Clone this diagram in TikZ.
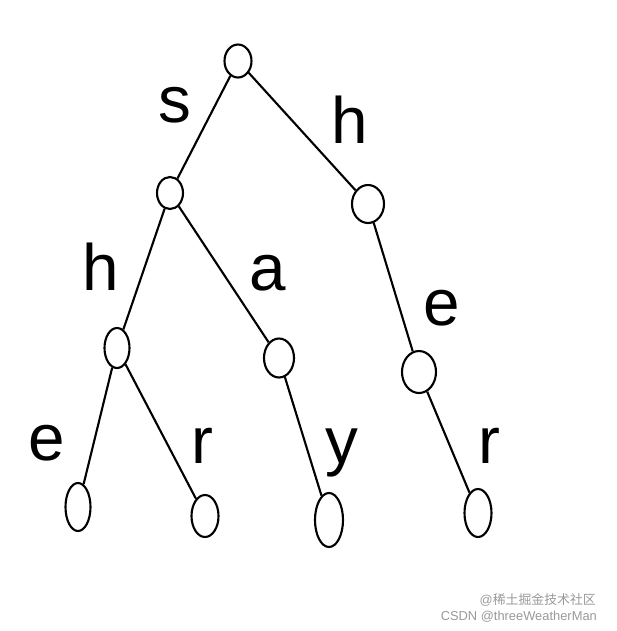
\documentclass[tikz,border=0pt]{standalone}
\usepackage{fontspec}
\setmainfont{Liberation Sans}
\newfontfamily\cjk{Noto Sans CJK SC}
\usetikzlibrary{shapes.geometric}

\begin{document}
\begin{tikzpicture}[x=0.03cm,y=-0.03cm]
	\tikzset{knot/.style 2 args={draw, ellipse, line width=1.8pt, inner sep=0pt,
			minimum width=#1*0.03cm, minimum height=#2*0.03cm},
		letter/.style={anchor=base, font=\fontsize{56}{60}\selectfont},
		mark text/.style={anchor=base east, text=black!40, font=\fontsize{11}{12}\selectfont}}
	\useasboundingbox (0,0) rectangle (617,631);
	% trie nodes
	\node[knot={27}{33}] (root) at (238,61) {};
	\node[knot={26}{32}] (s) at (170,193) {};
	\node[knot={32}{38}] (h) at (368,204) {};
	\node[knot={25}{40}] (sh) at (117,348) {};
	\node[knot={30}{39}] (sa) at (279,358) {};
	\node[knot={34}{42}] (he) at (419,372) {};
	\node[knot={25}{48}] (she) at (78,507) {};
	\node[knot={27}{42}] (shr) at (205,516) {};
	\node[knot={28}{54}] (say) at (329,520) {};
	\node[knot={27}{48}] (her) at (478,513) {};
	% edges
	\begin{scope}[line width=1.8pt]
		\draw (root) -- (s);
		\draw (root) -- (h);
		\draw (s) -- (sh);
		\draw (s) -- (sa);
		\draw (h) -- (he);
		\draw (sh) -- (she);
		\draw (sh) -- (shr);
		\draw (sa) -- (say);
		\draw (he) -- (her);
	\end{scope}
	% letters
	\node[letter] (ls) at (175,122) {s};
	\node[letter] (lh) at (350,143) {h};
	\node[letter] (lsh) at (101,290) {h};
	\node[letter] (lsa) at (268,290) {a};
	\node[letter] (lhe) at (442,325) {e};
	\node[letter] (lshe) at (47,460) {e};
	\node[letter] (lshr) at (202,463) {r};
	\node[letter] (lsay) at (342,463) {y};
	\node[letter] (lher) at (489,463) {r};
	% watermark
	\node[mark text] (wm1) at (600,604) {@{\cjk 稀土掘金技术社区}};
	\node[mark text] (wm2) at (601,620) {CSDN @threeWeatherMan};
\end{tikzpicture}
\end{document}
